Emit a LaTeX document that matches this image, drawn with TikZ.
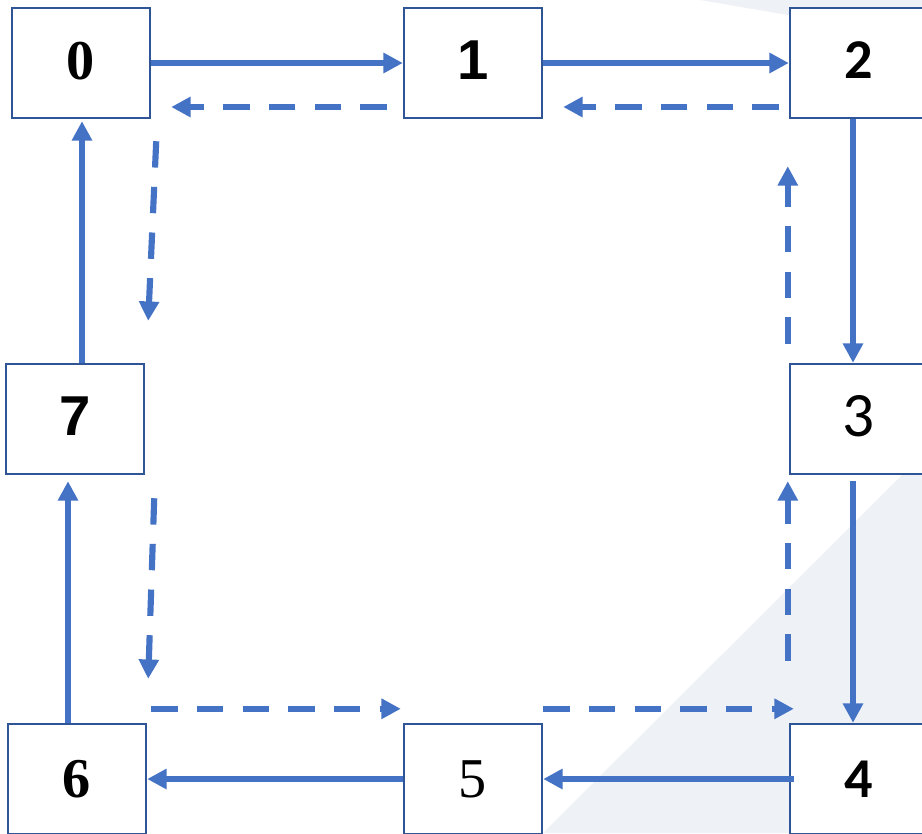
\documentclass[tikz,border=0pt]{standalone}
\usepackage{fontspec}
\usetikzlibrary{arrows.meta,positioning}
\newfontfamily\serifnum{Liberation Serif}
\newfontfamily\arialnum{Liberation Sans}
\newfontfamily\calnum{Carlito}
\definecolor{lineblue}{HTML}{4472C4}
\definecolor{boxblue}{HTML}{2F5597}
\definecolor{bgwedge}{HTML}{EEF2F6}

\begin{document}
\begin{tikzpicture}[
    x=0.02cm, y=-0.02cm,
    box/.style={rectangle, draw=boxblue, line width=1.4pt, fill=white, minimum width=2.76cm, minimum height=2.2cm, inner sep=0pt, font=\fontsize{32}{36}\selectfont},
    arrow/.style={-{Triangle[length=11pt,width=11pt]}, draw=lineblue, line width=3.2pt},
    dasharrow/.style={arrow, line width=3.5pt, dash pattern=on 15pt off 11pt}
]
    \useasboundingbox (0,0) rectangle (922,833);
    % background wedges
    \fill[bgwedge] (700,0) -- (922,0) -- (922,38) -- cycle;
    \fill[bgwedge] (543,833) -- (922,833) -- (922,455) -- cycle;

    \node[box] (n0) at (81,63) {\raisebox{3pt}{\serifnum\bfseries 0}};
    \node[box] (n1) at (473,63) {\raisebox{3pt}{\arialnum\bfseries 1}};
    \node[box] (n2) at (859,63) {\raisebox{3pt}{\calnum\bfseries 2}};
    \node[box] (n7) at (75,419) {\raisebox{3pt}{\arialnum\bfseries 7}};
    \node[box] (n3) at (859,419) {\raisebox{3pt}{\calnum\fontsize{36}{40}\selectfont 3}};
    \node[box] (n6) at (77,779) {\serifnum\bfseries 6};
    \node[box] (n5) at (473,779) {\serifnum 5};
    \node[box] (n4) at (859,779) {\calnum\bfseries 4};

    % outer ring
    \draw[arrow] (n0.east) -- (n1.west);
    \draw[arrow] (n1.east) -- (n2.west);
    \draw[arrow] ([shift={(-6,0)}]n2.south) -- ([shift={(-6,0)}]n3.north);
    \draw[arrow] ([shift={(-6,6)}]n3.south) -- ([shift={(-6,0)}]n4.north);
    \draw[arrow] ([shift={(5,0)}]n4.west) -- (n5.east);
    \draw[arrow] (n5.west) -- (n6.east);
    \draw[arrow] ([shift={(-9,0)}]n6.north) -- ([shift={(-7,6)}]n7.south);
    \draw[arrow] ([shift={(7,0)}]n7.north) -- ([shift={(1,2)}]n0.south);

    % inner ring
    \draw[dasharrow] ([shift={(-10,44)}]n2.west) -- ([shift={(20,44)}]n1.east);
    \draw[dasharrow] ([shift={(-16,44)}]n1.west) -- ([shift={(20,44)}]n0.east);
    \draw[dasharrow] ([shift={(5,22)}]n0.south east) -- ([shift={(3,-42)}]n7.north east);
    \draw[dasharrow] ([shift={(9,23)}]n7.south east) -- ([shift={(1,-44)}]n6.north east);
    \draw[dasharrow] ([shift={(4,-14)}]n6.north east) -- ([shift={(-2,-14)}]n5.north west);
    \draw[dasharrow] ([shift={(0,-14)}]n5.north east) -- ([shift={(5,-14)}]n4.north west);
    \draw[dasharrow] ([shift={(-1,-62)}]n4.north west) -- ([shift={(-1,6)}]n3.south west);
    \draw[dasharrow] ([shift={(-1,-19)}]n3.north west) -- ([shift={(-1,47)}]n2.south west);
\end{tikzpicture}
\end{document}
